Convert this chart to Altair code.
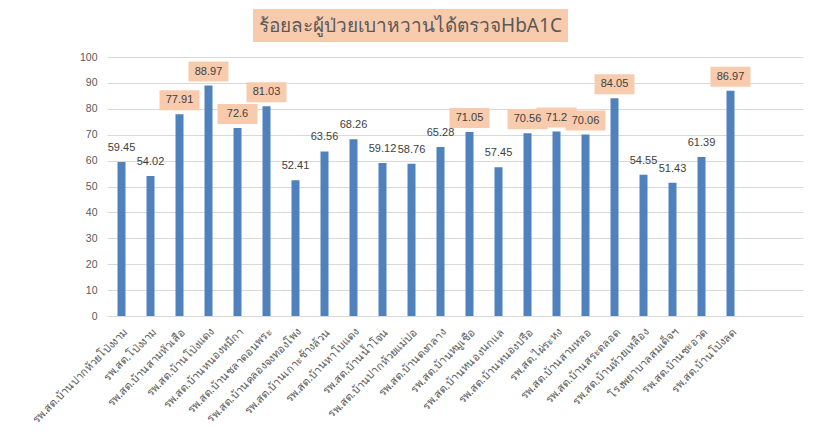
import altair as alt
import pandas as pd

title_text = "ร้อยละผู้ป่วยเบาหวานได้ตรวจHbA1C"

categories = [
    "รพ.สต.บ้านปากห้วยโป่งงาม",
    "รพ.สต.โป่งงาม",
    "รพ.สต.บ้านสามหัวเสือ",
    "รพ.สต.บ้านโป่งแดง",
    "รพ.สต.บ้านหนองหมีกา",
    "รพ.สต.บ้านชลาดอนพระ",
    "รพ.สต.บ้านคลองจงทองโพง",
    "รพ.สต.บ้านเกาะช้างล้วน",
    "รพ.สต.บ้านหาโบแดง",
    "รพ.สต.บ้านน้ำโจน",
    "รพ.สต.บ้านปากห้วยแม่ปอ",
    "รพ.สต.บ้านดงกลาง",
    "รพ.สต.บ้านหมูเชือ",
    "รพ.สต.บ้านหนองนกแล",
    "รพ.สต.บ้านหนองปรือ",
    "รพ.สต.ไผ่ระหง",
    "รพ.สต.บ้านสามหลอ",
    "รพ.สต.บ้านสระตลอด",
    "รพ.สต.บ้านห้วยเหลือง",
    "โรงพยาบาลสมเด็จฯ",
    "รพ.สต.บ้านชะอวด",
    "รพ.สต.บ้านโป่งลด",
]

values = [59.45, 54.02, 77.91, 88.97, 72.6, 81.03, 52.41, 63.56, 68.26, 59.12, 58.76,
          65.28, 71.05, 57.45, 70.56, 71.2, 70.06, 84.05, 54.55, 51.43, 61.39, 86.97]

empty_categories = [" ", "  "]
y_ticks = list(range(0, 101, 10))

df = pd.DataFrame({"name": categories, "v": values, "lbl": [str(v) for v in values]})
title_df = pd.DataFrame({"t": [title_text]})

H = 259
STEP = 29
W = STEP * (len(categories) + len(empty_categories))
px = H / 100.0

x_axis = alt.Axis(title=None, labelAngle=-45, labelFontSize=11, labelColor="#595959",
                  ticks=False, domain=False, labelPadding=10, labelFont="Noto Sans")
x_scale = alt.Scale(domain=categories + empty_categories, paddingInner=0, paddingOuter=0)
y_axis = alt.Axis(title=None, values=y_ticks, tickCount=11, gridColor="#D9D9D9",
                  domain=False, ticks=False, labelPadding=10, labelFontSize=10.5,
                  labelColor="#595959", labelFont="Liberation Sans", labelOverlap=False)
y_scale = alt.Scale(domain=[0, 100], nice=False)


def xe():
    return alt.X("name:N", sort=categories, scale=x_scale, axis=x_axis)


bars = alt.Chart(df).mark_bar(size=8, color="#4F81BD").encode(
    x=xe(),
    y=alt.Y("v:Q", scale=y_scale, axis=y_axis),
)

boxes = alt.Chart(df).transform_filter("datum.v >= 70").transform_calculate(
    lo=f"datum.v + {4/px}", hi=f"datum.v + {24/px}"
).mark_bar(width=40, color="#F8CBAD").encode(
    x=xe(),
    y=alt.Y("lo:Q", scale=y_scale, axis=y_axis),
    y2="hi:Q",
)

labels = alt.Chart(df).mark_text(dy=-14, fontSize=11, color="#404040",
                                  font="Liberation Sans", baseline="middle").encode(
    x=xe(),
    y=alt.Y("v:Q", scale=y_scale, axis=y_axis),
    text="lbl:N",
)

title_box = alt.Chart(title_df).mark_rect(color="#F8CBAD").encode(
    x=alt.value(146), x2=alt.value(461), y=alt.value(-48), y2=alt.value(-15)
)
title = alt.Chart(title_df).mark_text(fontSize=19, color="#595959", font="Noto Sans",
                                       baseline="middle", align="center").encode(
    x=alt.value(303.5), y=alt.value(-31), text="t:N"
)

chart = alt.layer(bars, boxes, labels, title_box, title).properties(
    width=W, height=H,
    autosize=alt.AutoSizeParams(type="none"),
    padding={"left": 99, "top": 49, "right": 5, "bottom": 120},
).configure_view(stroke=None)

chart.save("out.html", embed_options={"renderer": "svg", "actions": False})
